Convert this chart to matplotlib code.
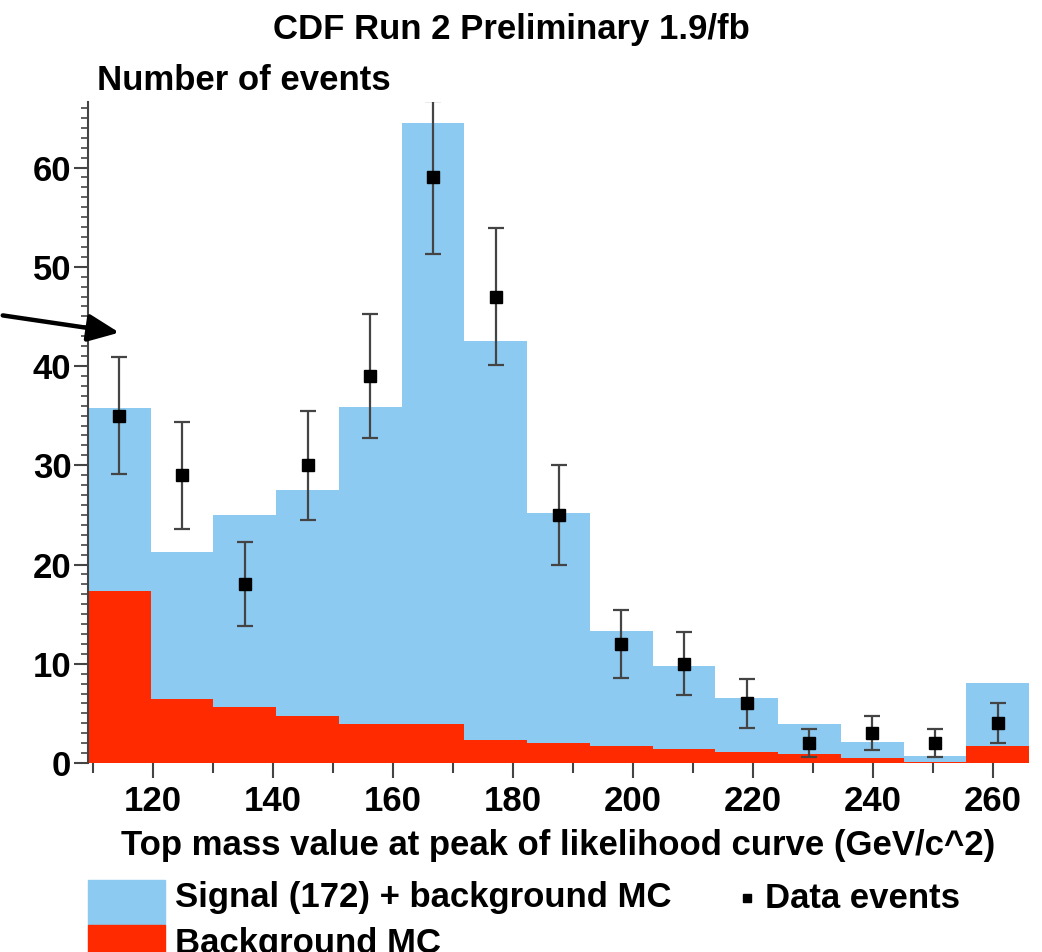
import matplotlib
matplotlib.use('Agg')
import matplotlib.pyplot as plt
from matplotlib.patches import Rectangle
import numpy as np

plt.rcParams['font.family'] = ['Liberation Sans', 'DejaVu Sans']

# binning of the top mass histogram (GeV/c^2)
edges = np.linspace(109.2, 266.0, 16)

# stacked MC: signal(172)+background total, background alone
sig_plus_bkg = [35.8, 21.3, 25.0, 27.5, 35.9, 64.5, 42.5, 25.2, 13.3, 9.8,
                6.5, 3.9, 2.15, 0.75, 8.1]
bkg = [17.3, 6.45, 5.65, 4.75, 3.95, 3.95, 2.3, 2.0, 1.75, 1.4,
       1.15, 0.9, 0.55, 0.15, 1.75]
# observed data
data = [35, 29, 18, 30, 39, 59, 47, 25, 12, 10, 6, 2, 3, 2, 4]

blue = '#8ccaf1'
red = '#ff2a00'
fs = 25

centers = 0.5 * (edges[:-1] + edges[1:])
err = np.sqrt(data)

fig = plt.figure(figsize=(10.42, 9.52), dpi=100)
ax = fig.add_axes([88 / 1042, 1 - 763 / 952, (1029 - 88) / 1042, (763 - 102) / 952])

ax.stairs(sig_plus_bkg, edges, fill=True, color=blue, baseline=0)
ax.stairs(bkg, edges, fill=True, color=red, baseline=0)
ax.errorbar(centers, data, yerr=err, fmt='s', color='black', ms=8,
            ecolor='#444444', elinewidth=1.6, capsize=5.5, capthick=1.6)

ax.set_xlim(edges[0], edges[-1])
ax.set_ylim(0, 66.6)
ax.set_xticks(np.arange(120, 261, 20))
ax.set_xticks(np.arange(110, 266, 10), minor=True)
ax.set_yticks(np.arange(0, 61, 10))
ax.set_yticks(np.arange(0, 67, 1), minor=True)
ax.tick_params(axis='both', which='major', labelsize=fs, width=1.5, color='#444444')
ax.tick_params(axis='x', which='major', length=11, pad=5)
ax.tick_params(axis='x', which='minor', length=7, width=1.5, color='#444444')
ax.tick_params(axis='y', which='major', length=10, pad=2)
ax.tick_params(axis='y', which='minor', length=5, width=1.2, color='#444444')
for lab in ax.get_xticklabels() + ax.get_yticklabels():
    lab.set_fontweight('bold')

for s in ['top', 'right', 'bottom']:
    ax.spines[s].set_visible(False)
ax.spines['left'].set_color('#444444')
ax.spines['left'].set_linewidth(1.5)

fig.text(511 / 1042, 1 - 30 / 952, 'CDF Run 2 Preliminary 1.9/fb', ha='center', va='center',
         fontsize=fs, fontweight='bold')
fig.text(97 / 1042, 1 - 80 / 952, 'Number of events', ha='left', va='center',
         fontsize=fs, fontweight='bold')
fig.text(558 / 1042, 1 - 846 / 952, 'Top mass value at peak of likelihood curve (GeV/c^2)',
         ha='center', va='center', fontsize=fs, fontweight='bold')

# arrow pointing at the first bin
fig.add_artist(matplotlib.patches.FancyArrowPatch(
    (0, 1 - 315 / 952), (122 / 1042, 1 - 333 / 952), transform=fig.transFigure,
    arrowstyle='-|>,head_length=0.95,head_width=0.42', mutation_scale=20,
    color='black', lw=3.2))

# legend drawn below the axis
fig.add_artist(Rectangle((88 / 1042, 1 - 925 / 952), 77 / 1042, 45 / 952,
                         transform=fig.transFigure, color=blue))
fig.add_artist(Rectangle((88 / 1042, 1 - 970 / 952), 77 / 1042, 45 / 952,
                         transform=fig.transFigure, color=red))
fig.text(175 / 1042, 1 - 898 / 952, 'Signal (172) + background MC', ha='left', va='center',
         fontsize=fs, fontweight='bold')
fig.text(175 / 1042, 1 - 943 / 952, 'Background MC', ha='left', va='center',
         fontsize=fs, fontweight='bold')
fig.lines.append(matplotlib.lines.Line2D([747 / 1042], [1 - 898 / 952], marker='s', ms=6,
                                         color='black', transform=fig.transFigure))
fig.text(765 / 1042, 1 - 898 / 952, 'Data events', ha='left', va='center',
         fontsize=fs, fontweight='bold')

fig.savefig('out.png', dpi=100)
